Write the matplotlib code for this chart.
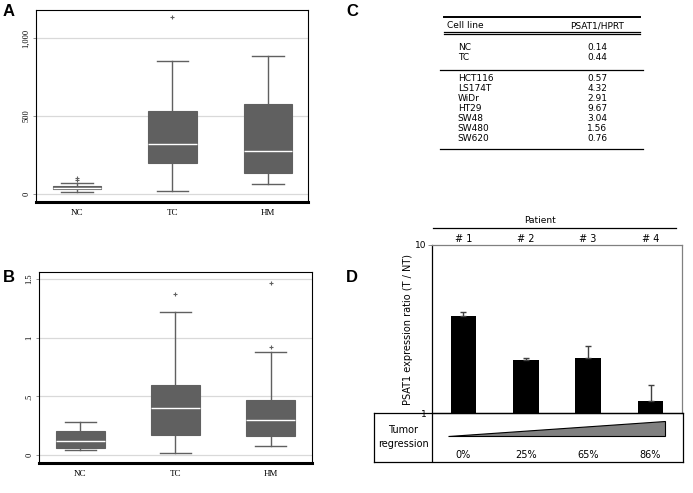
import matplotlib
matplotlib.use("Agg")
import matplotlib.pyplot as plt
from matplotlib.patches import Polygon
import matplotlib.transforms as mtrans

# Panel A / B box plot summaries
groups = ["NC", "TC", "HM"]
a_q1 = [30, 201, 137]
a_med = [40, 318, 274]
a_q3 = [49, 532, 577]
a_lo = [11, 17, 64]
a_hi = [68, 850, 882]
a_fliers = [[92, 104], [1133], []]

b_q1 = [0.062, 0.173, 0.165]
b_med = [0.117, 0.398, 0.296]
b_q3 = [0.205, 0.594, 0.469]
b_lo = [0.040, 0.014, 0.074]
b_hi = [0.284, 1.219, 0.875]
b_fliers = [[], [1.372], [0.918, 1.466]]

# Panel C table
cell_top = ["NC", "TC"]
val_top = ["0.14", "0.44"]
cell_lines = ["HCT116", "LS174T", "WiDr", "HT29", "SW48", "SW480", "SW620"]
val_lines = ["0.57", "4.32", "2.91", "9.67", "3.04", "1.56", "0.76"]

# Panel D
patients = ["# 1", "# 2", "# 3", "# 4"]
ratio = [3.79, 2.07, 2.13, 1.18]
ratio_err = [0.19, 0.05, 0.39, 0.29]
regression = ["0%", "25%", "65%", "86%"]

W, H = 693, 493
BOXC = "#606060"
SANS = "DejaVu Sans"


def rect(x0, y0, x1, y1):
    return [x0 / W, 1 - y1 / H, (x1 - x0) / W, (y1 - y0) / H]


fig = plt.figure(figsize=(W / 100, H / 100), dpi=100)
fig.patch.set_facecolor("white")


def boxpanel(pos, q1, med, q3, lo, hi, fliers, ylim, xlim, ticks, ticklabels):
    ax = fig.add_axes(pos)
    stats = []
    for i in range(len(groups)):
        stats.append(dict(q1=q1[i], med=med[i], q3=q3[i], whislo=lo[i],
                          whishi=hi[i], fliers=fliers[i], label=groups[i]))
    ax.bxp(stats, widths=0.51, capwidths=0.33, patch_artist=True,
           boxprops=dict(facecolor=BOXC, edgecolor=BOXC, linewidth=0.8),
           medianprops=dict(color="white", linewidth=1.0),
           whiskerprops=dict(color=BOXC, linewidth=1.0),
           capprops=dict(color=BOXC, linewidth=1.0),
           flierprops=dict(marker="+", markersize=3, markeredgecolor=BOXC,
                           markeredgewidth=0.8))
    ax.set_xlim(xlim)
    ax.set_ylim(ylim)
    ax.set_yticks(ticks)
    ax.set_yticklabels(ticklabels, rotation=90, va="center",
                       family="Liberation Serif", fontsize=6)
    for lab in ax.get_xticklabels():
        lab.set_family("Liberation Serif")
        lab.set_fontsize(6.5)
    ax.tick_params(axis="x", length=0, pad=5)
    ax.tick_params(axis="y", length=2, width=0.6, color="#808080", pad=2)
    ax.yaxis.grid(True, color="#d9d9d9", linewidth=0.9)
    ax.set_axisbelow(True)
    for s in ["top", "right", "left"]:
        ax.spines[s].set_linewidth(0.8)
    ax.spines["bottom"].set_linewidth(2.2)
    return ax


boxpanel(rect(36, 10, 308, 202), a_q1, a_med, a_q3, a_lo, a_hi, a_fliers,
         (-51, 1179), (0.57, 3.42), [0, 500, 1000], ["0", "500", "1,000"])
boxpanel(rect(39.3, 271.7, 311.7, 462.7), b_q1, b_med, b_q3, b_lo, b_hi,
         b_fliers, (-0.066, 1.563), (0.57, 3.43), [0, 0.5, 1, 1.5],
         ["0", ".5", "1", "1.5"])

# Panel labels
for lab, x, y in [("A", 9, 12), ("B", 9, 278), ("C", 352, 12), ("D", 352, 278)]:
    fig.text(x / W, 1 - y / H, lab, fontsize=12, fontweight="bold",
             family="Liberation Sans", ha="center", va="center")

# Panel C: table (axes in pixel units)
axc = fig.add_axes(rect(430, 5, 650, 160))
axc.set_xlim(430, 650)
axc.set_ylim(160, 5)
axc.axis("off")
tf = dict(family=SANS, fontsize=6.5, va="center")
axc.plot([444, 640], [17.3, 17.3], color="black", lw=1.4)
axc.text(446.7, 26, "Cell line", ha="left", **tf)
axc.text(597, 26, "PSAT1/HPRT", ha="center", **tf)
axc.plot([444, 640], [32.3, 32.3], color="black", lw=0.9)
axc.plot([444, 640], [34.2, 34.2], color="black", lw=0.9)
for i, (c, v) in enumerate(zip(cell_top, val_top)):
    y = 47.7 + i * 9.7
    axc.text(457.7, y, c, ha="left", **tf)
    axc.text(597, y, v, ha="center", **tf)
axc.plot([440, 642.7], [70, 70], color="black", lw=0.9)
for i, (c, v) in enumerate(zip(cell_lines, val_lines)):
    y = 78.7 + i * 10
    axc.text(457.7, y, c, ha="left", **tf)
    axc.text(597, y, v, ha="center", **tf)
axc.plot([440, 642.7], [149.3, 149.3], color="black", lw=0.9)

# Panel D: bar chart on log scale
axd = fig.add_axes(rect(432.3, 245, 681.7, 413.3))
xs = list(range(len(patients)))
axd.bar(xs, ratio, width=0.41, color="black", bottom=0)
axd.errorbar(xs, ratio, yerr=[[0] * 4, ratio_err], fmt="none",
             ecolor="#404040", elinewidth=1.0, capsize=2.5, capthick=1.0)
axd.set_yscale("log")
axd.set_ylim(1, 10)
axd.set_xlim(-0.5, 3.5)
axd.set_yticks([1, 10])
axd.set_yticklabels(["1", "10"], family=SANS, fontsize=6.5)
axd.yaxis.set_minor_locator(matplotlib.ticker.NullLocator())
axd.set_xticks([])
axd.tick_params(axis="y", length=3, width=0.6, color="#808080", pad=1)
axd.spines["top"].set_color("#808080")
axd.spines["right"].set_color("#808080")
for s in axd.spines.values():
    s.set_linewidth(0.9)
axd.set_ylabel("PSAT1 expression ratio (T / NT)", family=SANS,
               fontsize=7, labelpad=1.5)
for x, p in zip(xs, patients):
    axd.text(x, 1.036, p, transform=mtrans.blended_transform_factory(
        axd.transData, axd.transAxes), ha="center", va="center",
        family=SANS, fontsize=7)
axd.plot([0.004, 0.977], [1.099, 1.099], transform=axd.transAxes,
         color="black", lw=0.9, clip_on=False)
axd.text(0.433, 1.145, "Patient", transform=axd.transAxes, ha="center",
         va="center", family=SANS, fontsize=6.5)

# Tumor regression strip below panel D
axt = fig.add_axes(rect(374.3, 413.3, 683.3, 462.3))
axt.patch.set_alpha(0)
axt.set_xticks([])
axt.set_yticks([])
for s in axt.spines.values():
    s.set_linewidth(0.9)
divx = (432.3 - 374.3) / 309
axt.plot([divx, divx], [0, 1], transform=axt.transAxes, color="black", lw=0.9)
axt.text(divx / 2, 0.52, "Tumor\nregression", transform=axt.transAxes,
         ha="center", va="center", family=SANS, fontsize=7,
         linespacing=1.5)
blend = mtrans.blended_transform_factory(axd.transData, axt.transAxes)
tri = Polygon([[-0.242, 0.53], [3.226, 0.53], [3.226, 0.843]], closed=True,
              facecolor="#808080", edgecolor="black", lw=0.8,
              transform=blend, clip_on=False)
axt.add_patch(tri)
for x, r in zip(xs, regression):
    axt.text(x, 0.14, r, transform=blend, ha="center", va="center",
             family=SANS, fontsize=7)

fig.savefig("out.png", dpi=100, facecolor="white")
